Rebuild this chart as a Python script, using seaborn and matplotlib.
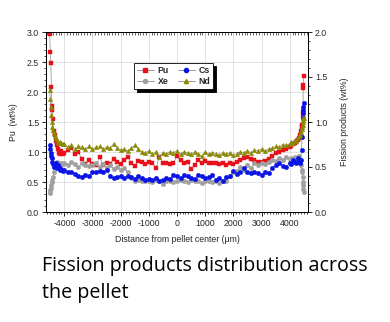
import matplotlib
matplotlib.use("Agg")
import matplotlib.pyplot as plt
from matplotlib.lines import Line2D
from matplotlib.ticker import MultipleLocator
import seaborn as sns
import pandas as pd

# Radial scan positions (µm from pellet centre)
distance = [
    -4520, -4500, -4480, -4460, -4440, -4420, -4400, -4370, -4340, -4300,
    -4260, -4220, -4180, -4140, -4100, -4060,
    -4000, -3875, -3750, -3625, -3500, -3375, -3250, -3125,
    -3000, -2875, -2750, -2625, -2500, -2375, -2250, -2125,
    -2000, -1875, -1750, -1625, -1500, -1375, -1250, -1125,
    -1000, -875, -750, -625, -500, -375, -250, -125,
    0, 125, 250, 375, 500, 625, 750, 875,
    1000, 1125, 1250, 1375, 1500, 1625, 1750, 1875,
    2000, 2125, 2250, 2375, 2500, 2625, 2750, 2875,
    3000, 3125, 3250, 3375, 3500, 3625, 3750, 3875, 4000,
    4060, 4120, 4180, 4230, 4280, 4320, 4360, 4390, 4420, 4440,
    4460, 4470, 4480, 4490, 4500,
]

# Pu content, wt% (left axis)
pu = [
    2.97, 2.67, 2.49, 2.09, 1.77, 1.70, 1.55, 1.35, 1.28, 1.18,
    1.12, 1.05, 0.98, 0.96, 1.02, 0.97,
    0.98, 1.04, 1.06, 0.97, 1.00, 0.88, 0.80, 0.86,
    0.80, 0.78, 0.92, 0.78, 0.82, 0.80, 0.88, 0.84,
    0.80, 0.87, 0.92, 0.82, 0.77, 0.85, 0.83, 0.80,
    0.83, 0.82, 0.73, 0.92, 0.82, 0.82, 0.80, 0.82,
    0.93, 0.86, 0.82, 0.84, 0.72, 0.78, 0.87, 0.82,
    0.85, 0.82, 0.82, 0.82, 0.80, 0.82, 0.78, 0.82,
    0.80, 0.84, 0.87, 0.90, 0.92, 0.88, 0.86, 0.84,
    0.83, 0.85, 0.88, 0.93, 0.98, 1.00, 1.03, 1.05, 1.08,
    1.10, 1.13, 1.15, 1.17, 1.20, 1.24, 1.28, 1.35, 1.42, 1.45,
    1.60, 1.67, 2.07, 2.12, 2.26,
]

# Fission products, wt% (right axis)
cs = [
    0.74, 0.70, 0.66, 0.62, 0.60, 0.56, 0.53, 0.50, 0.52, 0.55,
    0.49, 0.52, 0.50, 0.47, 0.48, 0.46,
    0.47, 0.44, 0.45, 0.42, 0.40, 0.39, 0.41, 0.40,
    0.44, 0.45, 0.46, 0.45, 0.47, 0.40, 0.38, 0.39,
    0.40, 0.38, 0.40, 0.39, 0.37, 0.40, 0.38, 0.36,
    0.37, 0.36, 0.38, 0.35, 0.36, 0.38, 0.37, 0.41,
    0.40, 0.38, 0.41, 0.40, 0.38, 0.37, 0.41, 0.40,
    0.38, 0.39, 0.41, 0.36, 0.38, 0.35, 0.39, 0.40,
    0.46, 0.42, 0.44, 0.49, 0.44, 0.43, 0.44, 0.43,
    0.41, 0.44, 0.43, 0.49, 0.52, 0.54, 0.51, 0.50, 0.55,
    0.53, 0.58, 0.56, 0.55, 0.60, 0.57, 0.54, 0.58, 0.69, 0.83,
    1.05, 1.10, 1.13, 1.17, 1.21,
]

xe = [
    0.21, 0.24, 0.27, 0.30, 0.33, 0.36, 0.39, 0.45, 0.50, 0.54,
    0.56, 0.53, 0.55, 0.52, 0.55, 0.53,
    0.55, 0.52, 0.56, 0.53, 0.50, 0.54, 0.52, 0.51,
    0.52, 0.54, 0.50, 0.53, 0.49, 0.52, 0.48, 0.50,
    0.47, 0.49, 0.44, 0.38, 0.35, 0.36, 0.34, 0.35,
    0.35, 0.33, 0.36, 0.34, 0.31, 0.34, 0.35, 0.33,
    0.34, 0.36, 0.35, 0.33, 0.36, 0.35, 0.34, 0.32,
    0.34, 0.35, 0.33, 0.34, 0.32, 0.35, 0.34, 0.40,
    0.44, 0.46, 0.50, 0.47, 0.52, 0.49, 0.54, 0.52,
    0.55, 0.53, 0.56, 0.58, 0.57, 0.60, 0.58, 0.61, 0.59,
    0.60, 0.58, 0.61, 0.57, 0.60, 0.62, 0.58, 0.52, 0.47, 0.44,
    0.39, 0.33, 0.30, 0.26, 0.22,
]

nd = [
    1.36, 1.26, 1.17, 1.08, 1.00, 0.95, 0.91, 0.88, 0.84, 0.82,
    0.80, 0.78, 0.77, 0.78, 0.77, 0.76,
    0.76, 0.72, 0.74, 0.70, 0.73, 0.72, 0.70, 0.73,
    0.70, 0.72, 0.73, 0.70, 0.72, 0.71, 0.76, 0.71,
    0.69, 0.70, 0.68, 0.71, 0.74, 0.70, 0.67, 0.66,
    0.68, 0.64, 0.67, 0.61, 0.66, 0.65, 0.67, 0.66,
    0.68, 0.64, 0.67, 0.66, 0.64, 0.67, 0.65, 0.62,
    0.67, 0.64, 0.66, 0.65, 0.63, 0.66, 0.64, 0.66,
    0.63, 0.65, 0.67, 0.66, 0.68, 0.66, 0.69, 0.68,
    0.70, 0.68, 0.70, 0.71, 0.73, 0.72, 0.75, 0.74, 0.76,
    0.78, 0.77, 0.80, 0.79, 0.82, 0.84, 0.86, 0.89, 0.92, 0.95,
    0.97, 1.00, 1.02, 1.04, 1.05,
]

x_ticks = [-4000, -3000, -2000, -1000, 0, 1000, 2000, 3000, 4000]

df = pd.DataFrame({"distance": distance, "Pu": pu, "Cs": cs, "Xe": xe, "Nd": nd})

sns.set_theme(style="white")
plt.rcParams["font.family"] = ["Liberation Sans", "DejaVu Sans"]
plt.rcParams["axes.edgecolor"] = "black"
plt.rcParams["axes.linewidth"] = 0.7
plt.rcParams["axes.unicode_minus"] = False

fig = plt.figure(figsize=(3.9, 3.22), dpi=100)
ax = fig.add_axes([46 / 390, 1 - 212 / 322, 262 / 390, 180 / 322])
ax2 = ax.twinx()

line_col = "#8a8a8a"
styles = {
    "Pu": dict(marker="s", color="#e8101a", axis=ax),
    "Xe": dict(marker="o", color="#a0a0a0", axis=ax2),
    "Cs": dict(marker="o", color="#0a14e6", axis=ax2),
    "Nd": dict(marker="^", color="#8c8a00", axis=ax2),
}

for name, st in styles.items():
    sns.lineplot(
        data=df, x="distance", y=name, ax=st["axis"], sort=False,
        estimator=None, color=line_col, linewidth=0.5,
        marker=st["marker"], markersize=3.2,
        markerfacecolor=st["color"], markeredgecolor=st["color"],
        markeredgewidth=0.3,
    )

# Axis ranges and ticks
ax.set_xlim(-4650, 4650)
ax.set_ylim(0, 3.0)
ax2.set_ylim(0, 2.0)
ax.set_xticks(x_ticks)
ax.xaxis.set_minor_locator(MultipleLocator(100))
ax.yaxis.set_major_locator(MultipleLocator(0.5))
ax.yaxis.set_minor_locator(MultipleLocator(0.1))
ax2.yaxis.set_major_locator(MultipleLocator(0.5))
ax2.yaxis.set_minor_locator(MultipleLocator(0.1))

ax.grid(True, which="major", color="#dcdcdc", linewidth=0.6)
ax.set_axisbelow(True)
ax2.grid(False)

fs = 6.3
ax.tick_params(axis="both", which="major", direction="out", length=3,
               width=0.6, labelsize=fs, pad=2, color="black")
ax.tick_params(axis="both", which="minor", direction="out", length=1.5,
               width=0.5, color="black")
ax.tick_params(axis="x", which="both", bottom=True, top=False)
ax.tick_params(axis="y", which="both", left=True)
ax2.tick_params(axis="y", which="major", direction="out", length=3,
                width=0.6, labelsize=fs, pad=2, color="black", right=True)
ax2.tick_params(axis="y", which="minor", direction="out", length=1.5,
                width=0.5, color="black", right=True)

top = ax.secondary_xaxis("top")
top.set_xticks(x_ticks)
top.xaxis.set_minor_locator(MultipleLocator(100))
top.tick_params(which="major", direction="in", length=3, width=0.6,
                labeltop=False)
top.tick_params(which="minor", direction="in", length=1.8, width=0.5)
top.spines["top"].set_linewidth(0.7)

ax.set_xlabel("Distance from pellet center (\u03bcm)", fontsize=fs, labelpad=5)
ax.set_ylabel("Pu  (wt%)", fontsize=fs, labelpad=6)
ax2.set_ylabel("Fission products (wt%)", fontsize=fs, labelpad=9)

# Legend with marker-on-line handles
handles = []
labels = []
for name in ["Pu", "Xe", "Cs", "Nd"]:
    st = styles[name]
    handles.append(Line2D([], [], color=line_col, linewidth=0.6,
                          marker=st["marker"], markersize=3,
                          markerfacecolor=st["color"],
                          markeredgecolor=st["color"]))
    labels.append(name)
leg = ax2.legend(
    handles, labels, ncol=2, loc="upper center",
    bbox_to_anchor=(0.487, 0.85), frameon=True, fancybox=False,
    shadow={"color": "black", "alpha": 1.0},
    prop={"size": fs, "weight": "bold"}, handlelength=2.0,
    columnspacing=1.0, handletextpad=0.4, borderpad=0.3,
    labelspacing=0.25,
)
leg.get_frame().set_edgecolor("black")
leg.get_frame().set_linewidth(0.6)

# Caption below the chart
cap_font = dict(family=["Open Sans", "DejaVu Sans"], fontsize=14.2, color="black")
fig.text(42 / 390, 1 - 271 / 322, "Fission products distribution across",
         va="baseline", ha="left", **cap_font)
fig.text(42 / 390, 1 - 298 / 322, "the pellet",
         va="baseline", ha="left", **cap_font)

fig.savefig("out.png", dpi=100)
